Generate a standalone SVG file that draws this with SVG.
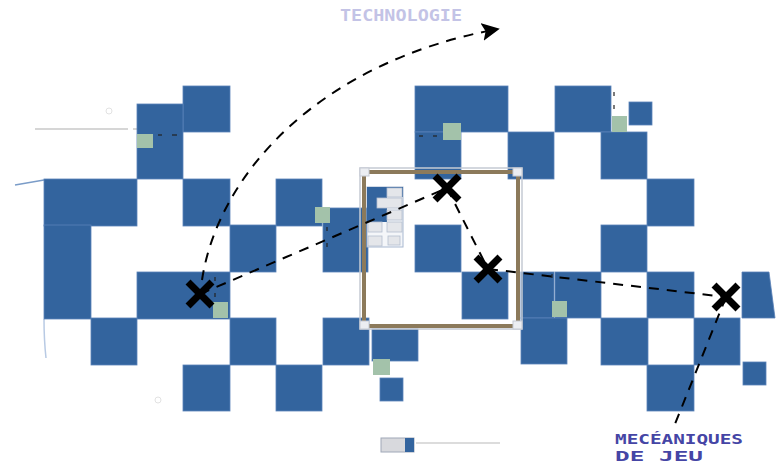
<svg xmlns="http://www.w3.org/2000/svg" width="777" height="464" viewBox="0 0 777 464">
<defs>
<style>
.b{fill:#33649e;stroke:#5a82b8;stroke-width:0.8}
.g{fill:#a3c2aa}
.cell{fill:#e4e6ea;stroke:#b5bfcf;stroke-width:0.8}
.x{stroke:#000;stroke-width:7;stroke-linecap:square;fill:none}
.dash{stroke:#000;stroke-width:2;stroke-dasharray:10 8;fill:none}
.faint{stroke:#d6d6d6;stroke-width:2;fill:none}
.tick{stroke:#222;stroke-width:1.2}
.lbl{font-family:"DejaVu Sans Mono","Liberation Mono",monospace;font-weight:bold}
</style>
<marker id="arr" viewBox="0 0 10 10" refX="9" refY="5" markerWidth="9" markerHeight="9" markerUnits="strokeWidth" orient="auto">
<path d="M0,0 L10,5 L0,10 L2,5 Z" fill="#000"/>
</marker>
</defs>
<rect width="777" height="464" fill="#fff"/>

<g id="background-lines">
<line class="faint" x1="35" y1="129" x2="128" y2="129"/>
<line class="faint" x1="133" y1="129" x2="158" y2="129"/>
<circle cx="109" cy="111" r="3" fill="none" stroke="#e2e2e2"/>
<circle cx="158" cy="400" r="3" fill="none" stroke="#e2e2e2"/>
<line x1="15" y1="185" x2="44" y2="180" stroke="#7a9cc8" stroke-width="1.5"/>
<path d="M44,319 Q44,340 46,358" stroke="#b8cae4" stroke-width="1.5" fill="none"/>
</g>

<g id="board">
<rect class="b" x="183" y="86" width="47" height="46"/>
<rect class="b" x="137" y="104" width="46" height="75"/>
<rect class="b" x="415" y="86" width="93" height="46"/>
<rect class="b" x="555" y="86" width="56" height="46"/>
<rect class="b" x="629" y="102" width="23" height="23"/>
<rect class="b" x="415" y="132" width="46" height="47"/>
<rect class="b" x="508" y="132" width="46" height="47"/>
<rect class="b" x="601" y="132" width="46" height="47"/>
<rect class="b" x="44" y="179" width="93" height="47"/>
<rect class="b" x="183" y="179" width="47" height="47"/>
<rect class="b" x="276" y="179" width="46" height="47"/>
<rect class="b" x="323" y="208" width="45" height="64"/>
<rect class="b" x="647" y="179" width="47" height="47"/>
<rect class="b" x="44" y="225" width="47" height="94"/>
<rect class="b" x="230" y="225" width="46" height="47"/>
<rect class="b" x="415" y="225" width="46" height="47"/>
<rect class="b" x="601" y="225" width="46" height="47"/>
<rect class="b" x="137" y="272" width="93" height="47"/>
<rect class="b" x="462" y="272" width="46" height="47"/>
<rect class="b" x="521" y="272" width="33" height="46"/>
<rect class="b" x="555" y="272" width="46" height="46"/>
<rect class="b" x="647" y="272" width="47" height="46"/>
<polygon class="b" points="742,272 769,272 775,318 742,318"/>
<rect class="b" x="91" y="318" width="46" height="47"/>
<rect class="b" x="230" y="318" width="46" height="47"/>
<rect class="b" x="323" y="318" width="46" height="47"/>
<rect class="b" x="521" y="318" width="46" height="46"/>
<rect class="b" x="601" y="318" width="47" height="47"/>
<rect class="b" x="694" y="318" width="46" height="47"/>
<rect class="b" x="372" y="329" width="46" height="32"/>
<rect class="b" x="380" y="378" width="23" height="23"/>
<rect class="b" x="183" y="365" width="47" height="46"/>
<rect class="b" x="276" y="365" width="46" height="46"/>
<rect class="b" x="647" y="365" width="47" height="46"/>
<rect class="b" x="743" y="362" width="23" height="23"/>
<rect class="g" x="137" y="134" width="16" height="14"/>
<rect class="g" x="443" y="123" width="18" height="17"/>
<rect class="g" x="612" y="116" width="15" height="16"/>
<rect class="g" x="315" y="207" width="15" height="16"/>
<rect class="g" x="213" y="302" width="15" height="16"/>
<rect class="g" x="552" y="301" width="15" height="16"/>
<rect class="g" x="373" y="359" width="17" height="16"/>
<g id="ticks">
<line class="tick" x1="158" y1="135" x2="162" y2="135"/>
<line class="tick" x1="172" y1="135" x2="177" y2="135"/>
<line class="tick" x1="419" y1="136" x2="423" y2="136"/>
<line class="tick" x1="433" y1="136" x2="437" y2="136"/>
<line class="tick" x1="614" y1="92" x2="614" y2="96"/>
<line class="tick" x1="614" y1="105" x2="614" y2="109"/>
<line class="tick" x1="215" y1="277" x2="215" y2="281"/>
<line class="tick" x1="215" y1="293" x2="215" y2="297"/>
<line class="tick" x1="327" y1="227" x2="327" y2="231"/>
<line class="tick" x1="327" y1="243" x2="327" y2="247"/>
<line class="tick" x1="552" y1="274" x2="552" y2="278"/>
</g>
</g>

<g id="zone-frame">
<rect x="360" y="168" width="162" height="161" fill="none" stroke="#c5cad3" stroke-width="1.5"/>
<rect x="364" y="172" width="154" height="154" fill="none" stroke="#8c7a5b" stroke-width="4"/>
<rect x="360" y="168" width="9" height="8" fill="#eceef2" stroke="#c5cad3" stroke-width="1"/>
<rect x="513" y="168" width="9" height="8" fill="#eceef2" stroke="#c5cad3" stroke-width="1"/>
<rect x="360" y="321" width="9" height="8" fill="#eceef2" stroke="#c5cad3" stroke-width="1"/>
<rect x="513" y="321" width="9" height="8" fill="#eceef2" stroke="#c5cad3" stroke-width="1"/>
</g>

<g id="mini-panel">
<rect x="367" y="187" width="36" height="60" fill="#f4f6f9" stroke="#a8b8d0" stroke-width="1"/>
<rect x="367" y="187" width="20" height="35" fill="#33649e"/>
<rect x="387" y="187" width="16" height="10" fill="#33649e"/>
<rect class="cell" x="387" y="188" width="15" height="9"/>
<rect class="cell" x="377" y="198" width="25" height="10"/>
<rect class="cell" x="387" y="210" width="15" height="10"/>
<rect class="cell" x="368" y="222" width="14" height="10"/>
<rect class="cell" x="387" y="222" width="15" height="10"/>
<rect class="cell" x="368" y="236" width="14" height="10"/>
<rect class="cell" x="388" y="236" width="12" height="9"/>
</g>

<g id="legend">
<rect x="381" y="438" width="33" height="14" fill="#d8d9dd" stroke="#a0a8b8" stroke-width="1"/>
<rect x="405" y="438" width="9" height="14" fill="#33649e"/>
<line x1="416" y1="443" x2="500" y2="443" stroke="#d0d0d0" stroke-width="1.5"/>
</g>

<g id="connectors">
<path class="dash" d="M202,280 C218,175 318,62 498,29" marker-end="url(#arr)"/>
<line class="dash" x1="200" y1="294" x2="447" y2="188"/>
<line class="dash" x1="447" y1="188" x2="488" y2="269"/>
<line class="dash" x1="488" y1="269" x2="726" y2="297"/>
<line class="dash" x1="726" y1="297" x2="675" y2="424"/>
</g>

<g id="marker-1"><path class="x" transform="translate(200,294)" d="M-9.5,-9.5 L9.5,9.5 M9.5,-9.5 L-9.5,9.5"/></g>
<g id="marker-2"><path class="x" transform="translate(447,188)" d="M-9.5,-9.5 L9.5,9.5 M9.5,-9.5 L-9.5,9.5"/></g>
<g id="marker-3"><path class="x" transform="translate(488,269)" d="M-9.5,-9.5 L9.5,9.5 M9.5,-9.5 L-9.5,9.5"/></g>
<g id="marker-4"><path class="x" transform="translate(726,297)" d="M-9.5,-9.5 L9.5,9.5 M9.5,-9.5 L-9.5,9.5"/></g>

<g id="label-technologie">
<text class="lbl" x="340" y="21" font-size="15" fill="#c3c3e6" textLength="122" lengthAdjust="spacingAndGlyphs">TECHNOLOGIE</text>
</g>
<g id="label-mecaniques">
<text class="lbl" x="615" y="444" font-size="14" fill="#4545a5" textLength="128" lengthAdjust="spacingAndGlyphs">MECÉANIQUES</text>
<text class="lbl" x="615" y="461" font-size="14" fill="#4545a5" textLength="88" lengthAdjust="spacingAndGlyphs">DE JEU</text>
</g>
</svg>
